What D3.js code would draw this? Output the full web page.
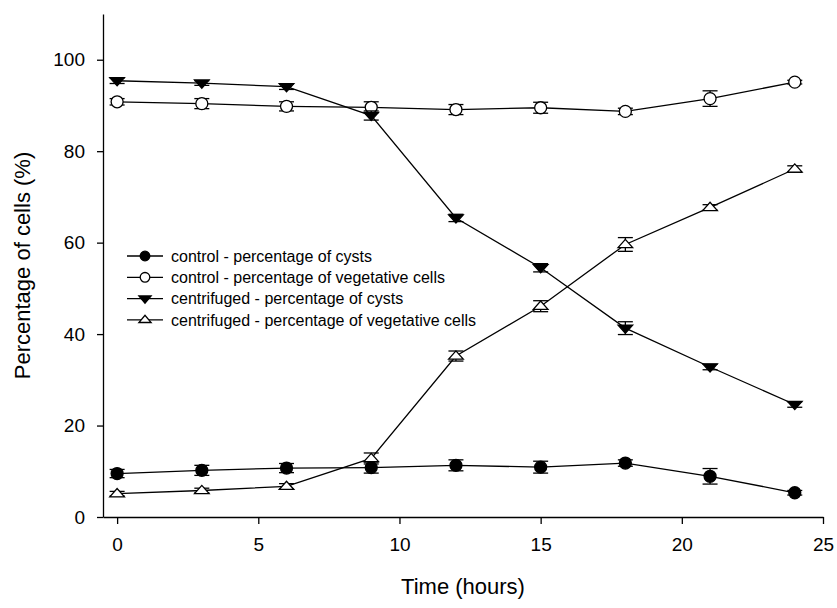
<!DOCTYPE html>
<html>
<head>
<meta charset="utf-8">
<script src="https://cdn.jsdelivr.net/npm/d3@7"></script>
<style>
  body { margin: 0; background: #fff; }
  svg { font-family: "Liberation Sans", Arial, sans-serif; }
</style>
</head>
<body>
<div id="chart"></div>
<script>

// sampling times (hours)
var hours = [0, 3, 6, 9, 12, 15, 18, 21, 24];

var controlCysts = [9.5, 10.2, 10.7, 10.8, 11.3, 10.9, 11.8, 8.9, 5.3];
var controlCystsErr = [0.9, 1.1, 1.0, 1.2, 1.2, 1.3, 0.7, 1.7, 0.5];

var controlVeg = [90.8, 90.4, 89.8, 89.6, 89.1, 89.5, 88.7, 91.5, 95.1];
var controlVegErr = [0.7, 1.1, 1.0, 1.2, 1.1, 1.2, 0.7, 1.7, 0.4];

var centCysts = [95.4, 94.9, 94.1, 87.8, 65.4, 54.5, 41.3, 32.8, 24.6];
var centCystsErr = [0.6, 0.5, 0.6, 1.0, 0.8, 0.9, 1.4, 0.6, 0.6];

var centVeg = [5.1, 5.8, 6.7, 12.8, 35.2, 46.1, 59.6, 67.7, 76.1];
var centVegErr = [0.5, 0.5, 0.6, 1.2, 1.1, 1.2, 1.5, 0.6, 0.7];

var seriesNames = [
  'control - percentage of cysts',
  'control - percentage of vegetative cells',
  'centrifuged - percentage of cysts',
  'centrifuged - percentage of vegetative cells'
];

var xTicks = [0, 5, 10, 15, 20, 25];
var yTicks = [0, 20, 40, 60, 80, 100];

var series = [
  {name: seriesNames[0], values: controlCysts, err: controlCystsErr, shape: 'circle', fill: '#000'},
  {name: seriesNames[1], values: controlVeg, err: controlVegErr, shape: 'circle', fill: '#fff'},
  {name: seriesNames[2], values: centCysts, err: centCystsErr, shape: 'down', fill: '#000'},
  {name: seriesNames[3], values: centVeg, err: centVegErr, shape: 'up', fill: '#fff'}
];

var width = 837, height = 608;
var margin = {top: 14, right: 14, bottom: 91, left: 103};

var svg = d3.select('#chart')
    .append('svg')
    .attr('width', width)
    .attr('height', height);

var x = d3.scaleLinear()
    .domain([-0.5, 25])
    .range([margin.left, width - margin.right]);

var y = d3.scaleLinear()
    .domain([0, 110])
    .range([height - margin.bottom, margin.top]);

// axes
var xAxis = svg.append('g')
    .attr('transform', 'translate(0,' + y(0) + ')')
    .call(d3.axisBottom(x).tickValues(xTicks).tickSizeInner(7).tickSizeOuter(0).tickPadding(14));

var yAxis = svg.append('g')
    .attr('transform', 'translate(' + x(-0.5) + ',0)')
    .call(d3.axisLeft(y).tickValues(yTicks).tickSizeInner(6).tickSizeOuter(0).tickPadding(12));

[xAxis, yAxis].forEach(function(a) {
  a.selectAll('path, line').attr('stroke', '#000').attr('stroke-width', 1.3);
  a.selectAll('text').attr('font-size', 19).attr('fill', '#000')
      .attr('font-family', '"Liberation Sans", Arial, sans-serif');
});

svg.append('text')
    .attr('x', (x.range()[0] + x.range()[1]) / 2)
    .attr('y', 594)
    .attr('text-anchor', 'middle')
    .attr('font-size', 22)
    .text('Time (hours)');

svg.append('text')
    .attr('transform', 'translate(30,' + (y.range()[0] + y.range()[1]) / 2 + ') rotate(-90)')
    .attr('text-anchor', 'middle')
    .attr('font-size', 22)
    .text('Percentage of cells (%)');

function symbolPath(shape, s) {
  if (shape == 'circle') return null;
  var h = s * 0.85;
  if (shape == 'down') {
    return 'M' + (-s) + ',' + (-h / 2) + 'L' + s + ',' + (-h / 2) + 'L0,' + (h / 2 + 2) + 'Z';
  }
  return 'M' + (-s) + ',' + (h / 2) + 'L' + s + ',' + (h / 2) + 'L0,' + (-h / 2 - 2) + 'Z';
}

function drawMarker(g, shape, fill, cx, cy, size) {
  if (shape == 'circle') {
    g.append('circle')
        .attr('cx', cx).attr('cy', cy).attr('r', size)
        .attr('fill', fill).attr('stroke', '#000').attr('stroke-width', 1.3);
  } else {
    g.append('path')
        .attr('d', symbolPath(shape, size + 1.3))
        .attr('transform', 'translate(' + cx + ',' + cy + ')')
        .attr('fill', fill).attr('stroke', '#000').attr('stroke-width', 1.3);
  }
}

var line = d3.line()
    .x(function(d) { return x(d[0]); })
    .y(function(d) { return y(d[1]); });

var plot = svg.append('g');

series.forEach(function(s) {
  var pts = hours.map(function(h, i) { return [h, s.values[i]]; });
  plot.append('path')
      .attr('d', line(pts))
      .attr('fill', 'none')
      .attr('stroke', '#000')
      .attr('stroke-width', 1.3);
});

series.forEach(function(s) {
  var g = plot.append('g');
  hours.forEach(function(h, i) {
    var cx = x(h), lo = y(s.values[i] - s.err[i]), hi = y(s.values[i] + s.err[i]);
    g.append('line').attr('x1', cx).attr('x2', cx).attr('y1', lo).attr('y2', hi)
        .attr('stroke', '#000').attr('stroke-width', 1.3);
    [lo, hi].forEach(function(yy) {
      g.append('line').attr('x1', cx - 7.5).attr('x2', cx + 7.5).attr('y1', yy).attr('y2', yy)
          .attr('stroke', '#000').attr('stroke-width', 1.3);
    });
  });
  hours.forEach(function(h, i) {
    drawMarker(g, s.shape, s.fill, x(h), y(s.values[i]), 6);
  });
});

// legend
var legend = svg.append('g').attr('transform', 'translate(127,256)');
series.forEach(function(s, i) {
  var row = legend.append('g').attr('transform', 'translate(0,' + (i * 21.3) + ')');
  row.append('line').attr('x1', 0).attr('x2', 36).attr('y1', 0).attr('y2', 0)
      .attr('stroke', '#000').attr('stroke-width', 1.3);
  drawMarker(row, s.shape, s.fill, 18, 0, 4.8);
  row.append('text')
      .attr('x', 44)
      .attr('y', 0)
      .attr('dy', '0.35em')
      .attr('font-size', 16)
      .text(s.name);
});

</script>
</body>
</html>
